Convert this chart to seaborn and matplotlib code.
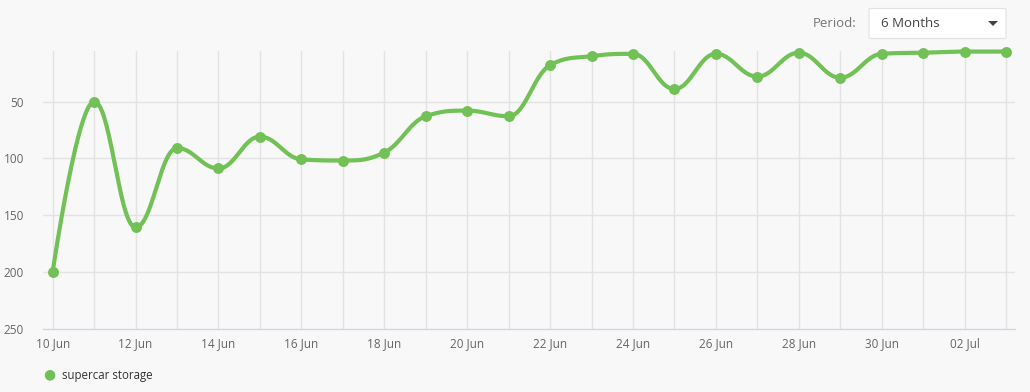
import numpy as np
import pandas as pd
import matplotlib
matplotlib.use("Agg")
import matplotlib.pyplot as plt
import seaborn as sns
from matplotlib.patches import FancyBboxPatch, Polygon

# ---- data ----
dates = ["10 Jun", "11 Jun", "12 Jun", "13 Jun", "14 Jun", "15 Jun", "16 Jun", "17 Jun",
         "18 Jun", "19 Jun", "20 Jun", "21 Jun", "22 Jun", "23 Jun", "24 Jun", "25 Jun",
         "26 Jun", "27 Jun", "28 Jun", "29 Jun", "30 Jun", "01 Jul", "02 Jul", "03 Jul"]
ranks = [200, 50, 161, 91, 109, 81, 101, 102, 95, 63, 58, 63,
         18, 10, 8, 39, 8, 28, 7, 29, 8, 7, 6, 6]
series_name = "supercar storage"
y_ticks = [50, 100, 150, 200, 250]
period_label = "Period:"
period_value = "6 Months"

GREEN = "#72c156"
BG = "#f8f8f8"
GRID = "#e3e3e3"
TICKC = "#666666"

# ---- Highcharts-like spline through the data points ----
def spline_curve(xs, ys, smoothing=1.5, n=30):
    xs = np.asarray(xs, float); ys = np.asarray(ys, float)
    N = len(xs)
    lc = [None] * N
    rc = [None] * N
    for i in range(1, N - 1):
        px, py = xs[i], ys[i]
        lx, ly = xs[i - 1], ys[i - 1]
        nx, ny = xs[i + 1], ys[i + 1]
        d = smoothing + 1
        lcx = (smoothing * px + lx) / d
        lcy = (smoothing * py + ly) / d
        rcx = (smoothing * px + nx) / d
        rcy = (smoothing * py + ny) / d
        corr = ((rcy - lcy) * (rcx - px)) / (rcx - lcx) + py - rcy
        lcy += corr
        rcy += corr
        if lcy > ly and lcy > py:
            lcy = max(ly, py); rcy = 2 * py - lcy
        elif lcy < ly and lcy < py:
            lcy = min(ly, py); rcy = 2 * py - lcy
        if rcy > ny and rcy > py:
            rcy = max(ny, py); lcy = 2 * py - rcy
        elif rcy < ny and rcy < py:
            rcy = min(ny, py); lcy = 2 * py - rcy
        lc[i] = (lcx, lcy)
        rc[i] = (rcx, rcy)
    outx, outy = [xs[0]], [ys[0]]
    t = np.linspace(0, 1, n)[1:]
    for i in range(1, N):
        p0 = np.array([xs[i - 1], ys[i - 1]])
        p1 = np.array(rc[i - 1]) if rc[i - 1] is not None else p0
        p3 = np.array([xs[i], ys[i]])
        p2 = np.array(lc[i]) if lc[i] is not None else p3
        for tt in t:
            b = ((1 - tt) ** 3) * p0 + 3 * ((1 - tt) ** 2) * tt * p1 + 3 * (1 - tt) * tt ** 2 * p2 + tt ** 3 * p3
            outx.append(b[0]); outy.append(b[1])
    return np.array(outx), np.array(outy)

xpos = np.arange(len(dates))
cx, cy = spline_curve(xpos, ranks)
curve = pd.DataFrame({"x": cx, "y": cy, "order": np.arange(len(cx))})
pts = pd.DataFrame({"x": xpos, "y": ranks})

plt.rcParams["font.family"] = ["Open Sans", "DejaVu Sans"]

fig = plt.figure(figsize=(10.30, 3.92), dpi=100)
fig.patch.set_facecolor(BG)
ax = fig.add_axes([43.3 / 1030, (392 - 328.5) / 392, (1015 - 43.3) / 1030, (328.5 - 51) / 392])
ax.set_facecolor(BG)

sns.lineplot(data=curve, x="x", y="y", sort=False, estimator=None, color=GREEN,
             linewidth=3.0, ax=ax, zorder=3, legend=False, clip_on=False)
sns.scatterplot(data=pts, x="x", y="y", color=GREEN, s=62, linewidth=0, ax=ax, zorder=4,
                legend=False, clip_on=False)

ax.set_xlim(-0.227, len(dates) - 1 + 0.217)
ax.set_ylim(250, 5.5)

ax.set_yticks(y_ticks)
ax.set_yticklabels([str(v) for v in y_ticks])
ax.set_xticks(xpos, minor=True)
ax.set_xticks(xpos[::2])
ax.set_xticklabels(dates[::2])

ax.grid(False)
for v in y_ticks[:-1]:
    ax.axhline(v, color=GRID, linewidth=1.0, zorder=1)
for xv in xpos:
    ax.axvline(xv, color=GRID, linewidth=1.0, zorder=1)

for s in ["top", "right", "left"]:
    ax.spines[s].set_visible(False)
ax.spines["bottom"].set_color("#ccd6eb")
ax.spines["bottom"].set_linewidth(1.0)

ax.tick_params(axis="y", length=0, pad=14, labelsize=8.5, labelcolor=TICKC)
ax.tick_params(axis="x", which="both", length=0, pad=6, labelsize=8.5, labelcolor=TICKC)
ax.set_xlabel("")
ax.set_ylabel("")

# legend
fig.text(49 / 1030, 1 - 375 / 392, "\u25CF", color=GREEN, fontsize=10, ha="center", va="center")
fig.text(62 / 1030, 1 - 375 / 392, series_name, color="#333333", fontsize=8.3, ha="left", va="center")

# period selector
fig.text(856 / 1030, 1 - 23.5 / 392, period_label, color="#777777", fontsize=9.5, ha="right", va="center")
box = FancyBboxPatch((869 / 1030, 1 - 38.5 / 392), (1006 - 869) / 1030, 30 / 392,
                     boxstyle="round,pad=0,rounding_size=0.002", transform=fig.transFigure,
                     facecolor="white", edgecolor="#e2e2e2", linewidth=0.8)
fig.patches.append(box)
fig.text(881 / 1030, 1 - 23.5 / 392, period_value, color="#444444", fontsize=9.5, ha="left", va="center")
tri = Polygon([[988 / 1030, 1 - 21 / 392], [998 / 1030, 1 - 21 / 392], [993 / 1030, 1 - 26 / 392]],
              closed=True, transform=fig.transFigure, facecolor="#444444", edgecolor="none")
fig.patches.append(tri)

fig.savefig("out.png", dpi=100, facecolor=BG)
